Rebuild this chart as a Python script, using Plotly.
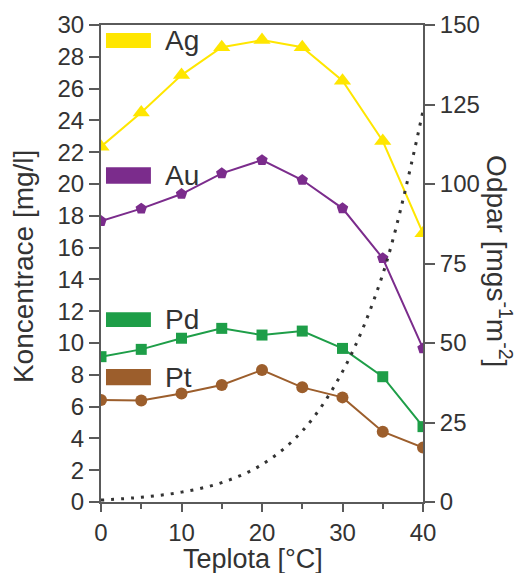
import plotly.graph_objects as go

# ---- data ----
teplota = [0, 5, 10, 15, 20, 25, 30, 35, 40]
ag = [22.35, 24.5, 26.85, 28.6, 29.05, 28.6, 26.5, 22.7, 16.9]
au = [17.67, 18.45, 19.37, 20.67, 21.5, 20.25, 18.47, 15.33, 9.66]
pd_ = [9.14, 9.6, 10.3, 10.92, 10.5, 10.75, 9.66, 7.88, 4.74]
pt = [6.41, 6.38, 6.83, 7.36, 8.3, 7.21, 6.58, 4.42, 3.42]
odpar = [0.6, 1.5, 3.1, 6.1, 11.8, 22.3, 41.0, 71.6, 123.0]

names = ["Ag", "Au", "Pd", "Pt"]
series = [ag, au, pd_, pt]
colors = ["#FFE600", "#7B2C8C", "#1E9E48", "#9C5E2C"]
symbols = ["triangle-up", "pentagon", "square", "circle"]
msizes = [15, 12, 11, 12]
# legend box vertical positions (paper coords: bottom, top)
leg_y = [(0.952, 0.983), (0.667, 0.702), (0.367, 0.398), (0.245, 0.279)]

y_ticks = list(range(0, 31, 2))
y2_ticks = list(range(0, 151, 25))
x_ticks = [0, 10, 20, 30, 40]

FONT = "Liberation Sans, Arial, sans-serif"
TXT = "#333333"
AX = "#5a5a5a"

fig = go.Figure()
for nm, vals, c, s, ms in zip(names, series, colors, symbols, msizes):
    fig.add_trace(go.Scatter(
        x=teplota, y=vals, name=nm, mode="lines+markers",
        line=dict(color=c, width=2),
        marker=dict(symbol=s, size=ms, color=c),
        showlegend=False,
    ))

fig.add_trace(go.Scatter(
    x=teplota, y=odpar, yaxis="y2", mode="lines", name="Odpar",
    line=dict(color="#333333", width=3, dash="3px,7px", shape="spline"),
    showlegend=False,
))

shapes = []
annotations = []
for nm, c, (y0, y1) in zip(names, colors, leg_y):
    shapes.append(dict(type="rect", xref="paper", yref="paper",
                       x0=0.0155, x1=0.155, y0=y0, y1=y1,
                       fillcolor=c, line=dict(width=0)))
    annotations.append(dict(text=nm, xref="paper", yref="paper",
                            x=0.1925, y=(y0 + y1) / 2, xanchor="left",
                            yanchor="middle", showarrow=False,
                            font=dict(family=FONT, size=28, color=TXT)))

annotations += [
    dict(text="Koncentrace [mg/l]", xref="paper", yref="paper",
         x=-0.24, y=0.494, textangle=-90, showarrow=False,
         xanchor="center", yanchor="middle",
         font=dict(family=FONT, size=28, color=TXT)),
    dict(text="Teplota [°C]", xref="paper", yref="paper",
         x=0.472, y=-0.12, showarrow=False, borderpad=0,
         xanchor="center", yanchor="middle",
         font=dict(family=FONT, size=27, color=TXT)),
    dict(text="Odpar [mgs<sup>-1</sup>m<sup>-2</sup>]", xref="paper", yref="paper",
         x=1.236, y=0.505, textangle=90, showarrow=False,
         xanchor="center", yanchor="middle",
         font=dict(family=FONT, size=28, color=TXT)),
]

fig.update_layout(
    width=516, height=573,
    margin=dict(l=101, r=93, t=25, b=71, pad=0),
    paper_bgcolor="white", plot_bgcolor="white",
    font=dict(family=FONT, size=24, color=TXT),
    shapes=shapes, annotations=annotations,
    xaxis=dict(range=[0, 40], tickvals=x_ticks, ticks="outside", ticklen=8,
               tickwidth=2, tickcolor=AX, showline=True, linecolor=AX,
               linewidth=2, mirror=True, showgrid=False, zeroline=False,
               minor=dict(ticks="outside", ticklen=5, tickwidth=2,
                          tickcolor=AX, dtick=5, showgrid=False),
               tickfont=dict(size=24, color=TXT)),
    yaxis=dict(range=[0, 30], tickvals=y_ticks, ticks="outside", ticklen=10,
               tickwidth=2, tickcolor=AX, showline=True, linecolor=AX,
               linewidth=2, showgrid=False, zeroline=False,
               tickfont=dict(size=24, color=TXT)),
    yaxis2=dict(range=[0, 150], tickvals=y2_ticks, overlaying="y", side="right",
                anchor="x", ticks="outside", ticklen=10, tickwidth=2,
                tickcolor=AX, showline=True, linecolor=AX, linewidth=2,
                showgrid=False, zeroline=False,
                tickfont=dict(size=24, color=TXT)),
)

fig.write_html("out.html")
